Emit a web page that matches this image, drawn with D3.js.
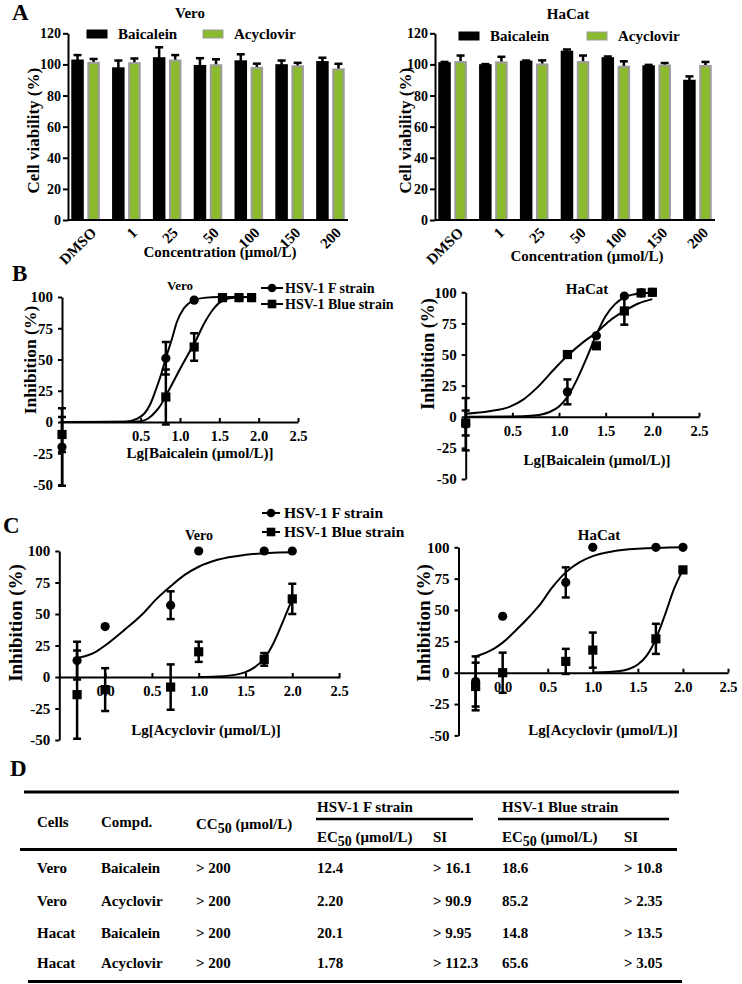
<!DOCTYPE html>
<html>
<head>
<meta charset="utf-8">
<script src="https://cdn.jsdelivr.net/npm/d3@7"></script>
<style>
  body { margin: 0; background: #fff; }
  svg text { font-family: "Liberation Serif", "Times New Roman", serif; font-weight: bold; fill: #000; }
  .axis path, .axis line { stroke: #000; stroke-width: 2; }
</style>
</head>
<body>
<div id="fig"></div>
<script>
// ---------- values ----------
// A: cell viability (%), mean + upper error
const concLabels = ['DMSO', '1', '25', '50', '100', '150', '200'];
const veroBaicalein = [102.5, 97.5, 104, 99, 102, 99.5, 101.5];
const veroBaicaleinErr = [3.5, 5, 7, 5, 4.5, 3, 2.8];
const veroAcyclovir = [101, 100.8, 102.5, 99.5, 97.8, 98.8, 96.8];
const veroAcyclovirErr = [2.5, 3, 3.5, 3.8, 2.7, 2.2, 3.6];
const hacatBaicalein = [100.8, 99.5, 101.8, 108.2, 104, 98.8, 89.5];
const hacatBaicaleinErr = [0.8, 0.7, 0.7, 1.4, 1.1, 0.9, 2.8];
const hacatAcyclovir = [101.5, 101.3, 100, 101.5, 98.5, 99.3, 99];
const hacatAcyclovirErr = [4.2, 3.6, 2.6, 4.2, 3.5, 1.6, 2.6];
const viabilityTicks = [0, 20, 40, 60, 80, 100, 120];
const drugNames = ['Baicalein', 'Acyclovir'];

// B, C: inhibition (%) vs lg concentration
const inhibitionTicks = [-50, -25, 0, 25, 50, 75, 100];
const baicaleinTicks = [0.5, 1.0, 1.5, 2.0, 2.5];
const acyclovirTicks = [0.0, 0.5, 1.0, 1.5, 2.0, 2.5];
const strainNames = ['HSV-1 F strain', 'HSV-1 Blue strain'];

const bVeroX = [-0.5, 0.82, 1.18, 1.54, 1.75, 1.91];
const bVeroF = [-20, 51, 97.5, 99.5, 99.5, 99.5];
const bVeroFErr = [31, 13, 0, 0, 0, 0];
const bVeroBlue = [-10, 20, 60, 99.5, 99.5, 99.5];
const bVeroBlueErr = [14, 22, 11, 0, 0, 0];
const bVeroFCurve = [[-0.5, 0], [0.3, 0.3], [0.45, 2.5], [0.55, 7], [0.62, 14], [0.7, 27], [0.76, 38], [0.82, 51],
  [0.9, 67], [0.96, 80], [1.05, 91], [1.18, 97.5], [1.3, 99.3], [1.5, 100], [1.91, 100]];
const bVeroBlueCurve = [[-0.5, 0], [0.4, 0.2], [0.5, 0.6], [0.6, 3], [0.7, 9], [0.76, 14], [0.82, 21], [0.93, 34],
  [1.04, 47], [1.12, 56], [1.2, 65], [1.3, 78], [1.42, 90], [1.54, 97], [1.7, 99.5], [1.91, 100]];

const bHacatX = [0, 1.09, 1.4, 1.7, 1.88, 2.0];
const bHacatF = [-6, 20, 65, 97, 99.5, 100];
const bHacatFErr = [21, 10, 0, 0, 0, 0];
const bHacatBlue = [-5, 50, 57, 85, 99.5, 100];
const bHacatBlueErr = [10, 0, 0, 11, 0, 0];
const bHacatFCurve = [[0, 0], [0.5, 0.2], [0.7, 0.8], [0.8, 1.7], [0.9, 3.8], [1.0, 8.2], [1.1, 17], [1.2, 31],
  [1.3, 48], [1.4, 66], [1.5, 81], [1.6, 90.5], [1.7, 96], [1.8, 98.3], [1.9, 99.3], [2.0, 99.7]];
const bHacatBlueCurve = [[0, 2.5], [0.25, 4.5], [0.47, 8], [0.62, 14], [0.76, 23], [0.97, 40], [1.09, 49],
  [1.26, 60], [1.39, 67], [1.54, 77], [1.7, 85], [1.85, 91], [2.0, 94.5]];

const cX = [-0.3, 0, 0.7, 1.0, 1.7, 2.0];
const cVeroF = [13, 40, 57, 100, 100, 100];
const cVeroFErr = [15, 0, 11, 0, 0, 0];
const cVeroBlue = [-14, -10, -8, 20, 14, 62];
const cVeroBlueErr = [35, 17, 18, 8, 5, 12];
const cVeroFCurve = [[-0.3, 15], [-0.1, 20], [0, 25], [0.2, 37], [0.4, 50], [0.55, 62], [0.7, 72], [0.85, 81],
  [1.0, 87.5], [1.2, 93], [1.5, 97], [1.75, 98.5], [2.0, 99]];
const cVeroBlueCurve = [[1.0, 0], [1.2, 0.4], [1.4, 1.9], [1.5, 3.9], [1.6, 7.8], [1.7, 14.5], [1.8, 27], [1.9, 44], [2.0, 62]];

const cHacatF = [-7, 45, 72, 100, 100, 100];
const cHacatFErr = [20, 0, 12, 0, 0, 0];
const cHacatBlue = [-11, 0, 9, 18, 27, 82];
const cHacatBlueErr = [19, 16, 10, 14, 12, 0];
const cHacatFCurve = [[-0.3, 13], [-0.1, 19], [0, 24], [0.15, 34], [0.3, 45], [0.4, 53], [0.55, 68], [0.7, 80],
  [0.85, 88], [1.0, 93], [1.2, 96.5], [1.5, 98.8], [2.0, 100]];
const cHacatBlueCurve = [[1.0, 0.1], [1.3, 1.3], [1.4, 2.9], [1.5, 6.5], [1.6, 13.8], [1.7, 27], [1.8, 46], [1.9, 66.6], [2.0, 82]];

// D: table
const tableRows = [
  ['Vero', 'Baicalein', '> 200', '12.4', '> 16.1', '18.6', '> 10.8'],
  ['Vero', 'Acyclovir', '> 200', '2.20', '> 90.9', '85.2', '> 2.35'],
  ['Hacat', 'Baicalein', '> 200', '20.1', '> 9.95', '14.8', '> 13.5'],
  ['Hacat', 'Acyclovir', '> 200', '1.78', '> 112.3', '65.6', '> 3.05']
];

// ---------- drawing ----------
const svg = d3.select('#fig').append('svg').attr('width', 742).attr('height', 984);

function addText(x, y, str, size, anchor, rotate) {
  const t = svg.append('text')
    .attr('x', x).attr('y', y)
    .attr('text-anchor', anchor || 'start')
    .style('font-size', size + 'px')
    .text(str);
  if (rotate) t.attr('transform', `rotate(${rotate},${x},${y})`);
  return t;
}

// panel letters
addText(12, 20, 'A', 23);
addText(12, 281, 'B', 23);
addText(3, 533, 'C', 23);
addText(10, 776, 'D', 23);

// ----- A: bar panels -----
function drawBarPanel(p) {
  const x0 = d3.scaleBand().domain(concLabels).range([p.left, p.right]).paddingInner(0.3).paddingOuter(0.08);
  const x1 = d3.scaleBand().domain(['baic', 'acy']).range([0, x0.bandwidth()]).paddingInner(0.22);
  const y = d3.scaleLinear().domain([0, 120]).range([p.bottom, p.top]);
  const g = svg.append('g');

  const series = [
    { key: 'baic', vals: p.baic, errs: p.baicErr, fill: '#000', stroke: '#000' },
    { key: 'acy', vals: p.acy, errs: p.acyErr, fill: '#8cba2e', stroke: '#9c9c9c' }
  ];

  series.forEach(s => {
    const cx = (d, i) => x0(concLabels[i]) + x1(s.key) + x1.bandwidth() / 2;
    // error bars (upper only)
    g.selectAll(null).data(s.vals).enter().append('line')
      .attr('x1', cx).attr('x2', cx)
      .attr('y1', d => y(d))
      .attr('y2', (d, i) => y(d + s.errs[i]))
      .attr('stroke', '#000').attr('stroke-width', 2.5);
    g.selectAll(null).data(s.vals).enter().append('line')
      .attr('x1', (d, i) => cx(d, i) - 4).attr('x2', (d, i) => cx(d, i) + 4)
      .attr('y1', (d, i) => y(d + s.errs[i]))
      .attr('y2', (d, i) => y(d + s.errs[i]))
      .attr('stroke', '#000').attr('stroke-width', 2.5);
    // bars
    g.selectAll(null).data(s.vals).enter().append('rect')
      .attr('x', (d, i) => x0(concLabels[i]) + x1(s.key) + 1)
      .attr('width', x1.bandwidth() - 2)
      .attr('y', d => y(d))
      .attr('height', d => y(0) - y(d))
      .attr('fill', s.fill)
      .attr('stroke', s.stroke)
      .attr('stroke-width', 2);
  });

  // axes
  g.append('g').attr('class', 'axis')
    .attr('transform', `translate(${p.left},0)`)
    .call(d3.axisLeft(y).tickValues(viabilityTicks).tickSize(5).tickSizeOuter(0).tickPadding(2).tickFormat(d => String(d)))
    .selectAll('text').style('font-size', '14px');

  const xa = g.append('g').attr('class', 'axis')
    .attr('transform', `translate(0,${y(0)})`)
    .call(d3.axisBottom(x0).tickSize(0).tickSizeOuter(0));
  xa.select('.domain').attr('d', `M${p.left},0H${p.right}`);
  xa.selectAll('text')
    .attr('x', 0).attr('y', 0).attr('dy', '0.35em')
    .attr('text-anchor', 'end')
    .attr('transform', 'translate(8,10) rotate(-45)')
    .style('font-size', '15px');

  // titles and labels
  addText(p.titleX, p.titleY, p.title, 15, 'middle');
  addText(p.ylabX, (p.top + p.bottom) / 2 + 4, 'Cell viability (%)', 17, 'middle', -90);
  addText(p.xlabX, p.xlabY, 'Concentration (μmol/L)', 15, 'middle');

  // legend
  const legCols = [['#000', '#000'], ['#8cba2e', '#9c9c9c']];
  drugNames.forEach((name, i) => {
    const lx = p.legX[i];
    svg.append('rect').attr('x', lx).attr('y', p.legY - 4).attr('width', 20).attr('height', 8)
      .attr('fill', legCols[i][0]).attr('stroke', legCols[i][1]).attr('stroke-width', 1);
    addText(lx + 31, p.legY + 5, name, 15);
  });
}

drawBarPanel({
  title: 'Vero', titleX: 190, titleY: 18,
  left: 68, right: 348, top: 33.3, bottom: 220,
  baic: veroBaicalein, baicErr: veroBaicaleinErr, acy: veroAcyclovir, acyErr: veroAcyclovirErr,
  ylabX: 39, xlabX: 220, xlabY: 257, legX: [87, 203], legY: 34
});
drawBarPanel({
  title: 'HaCat', titleX: 568, titleY: 19,
  left: 435, right: 715, top: 33.3, bottom: 220,
  baic: hacatBaicalein, baicErr: hacatBaicaleinErr, acy: hacatAcyclovir, acyErr: hacatAcyclovirErr,
  ylabX: 411, xlabX: 587, xlabY: 261, legX: [459, 587], legY: 36
});

// ----- B, C: dose-response panels -----
function drawCurvePanel(p) {
  const x = d3.scaleLinear().domain(p.xDomain).range(p.xRange);
  const y = d3.scaleLinear().domain([-50, 100]).range(p.yRange);
  const g = svg.append('g');

  g.append('g').attr('class', 'axis')
    .attr('transform', `translate(${p.xRange[0]},0)`)
    .call(d3.axisLeft(y).tickValues(inhibitionTicks).tickSize(4).tickSizeOuter(0).tickPadding(5).tickFormat(d => String(d)))
    .selectAll('text').style('font-size', '15px');

  g.append('g').attr('class', 'axis')
    .attr('transform', `translate(0,${y(0)})`)
    .call(d3.axisBottom(x).tickValues(p.xTicks).tickFormat(d3.format('.1f')).tickSizeInner(-4).tickSizeOuter(0).tickPadding(9))
    .selectAll('text').style('font-size', '14.5px');

  const line = d3.line().x(d => x(d[0])).y(d => y(d[1])).curve(d3.curveMonotoneX);
  p.curves.forEach(c => {
    g.append('path').attr('d', line(c)).attr('fill', 'none').attr('stroke', '#000').attr('stroke-width', 2);
  });

  const series = [
    { vals: p.f, errs: p.fErr, shape: 'circle' },
    { vals: p.blue, errs: p.blueErr, shape: 'square' }
  ];
  series.forEach(s => {
    s.vals.forEach((v, i) => {
      const e = s.errs[i];
      const px = x(p.xs[i]);
      if (e > 0) {
        g.append('line').attr('x1', px).attr('x2', px).attr('y1', y(v - e)).attr('y2', y(v + e))
          .attr('stroke', '#000').attr('stroke-width', 2.5);
        [v - e, v + e].forEach(yy => {
          g.append('line').attr('x1', px - 4).attr('x2', px + 4).attr('y1', y(yy)).attr('y2', y(yy))
            .attr('stroke', '#000').attr('stroke-width', 2.5);
        });
      }
    });
  });
  series.forEach(s => {
    s.vals.forEach((v, i) => {
      const px = x(p.xs[i]);
      if (s.shape === 'circle') {
        g.append('circle').attr('cx', px).attr('cy', y(v)).attr('r', 4.6).attr('fill', '#000');
      } else {
        g.append('rect').attr('x', px - 4.6).attr('y', y(v) - 4.6).attr('width', 9.2).attr('height', 9.2).attr('fill', '#000');
      }
    });
  });

  addText(p.titleX, p.titleY, p.title, p.titleSize, 'middle');
  addText(p.ylabX, p.ylabY, 'Inhibition (%)', p.ylabSize, 'middle', -90);
  addText(p.xlabX, p.xlabY, p.xlab, 15, 'middle');
}

function drawStrainLegend(lx, tx, ys, size) {
  strainNames.forEach((name, i) => {
    svg.append('line').attr('x1', lx[0]).attr('x2', lx[1]).attr('y1', ys[i]).attr('y2', ys[i])
      .attr('stroke', '#000').attr('stroke-width', 2);
    const mx = (lx[0] + lx[1]) / 2;
    if (i === 0) {
      svg.append('circle').attr('cx', mx).attr('cy', ys[i]).attr('r', 4.3).attr('fill', '#000');
    } else {
      svg.append('rect').attr('x', mx - 4.3).attr('y', ys[i] - 4.3).attr('width', 8.6).attr('height', 8.6).attr('fill', '#000');
    }
    addText(tx, ys[i] + 5, name, size);
  });
}

drawCurvePanel({
  xDomain: [-0.5, 2.5], xRange: [62, 298], yRange: [484.5, 297], xTicks: baicaleinTicks,
  xs: bVeroX, f: bVeroF, fErr: bVeroFErr, blue: bVeroBlue, blueErr: bVeroBlueErr,
  curves: [bVeroFCurve, bVeroBlueCurve],
  title: 'Vero', titleX: 180, titleY: 289.5, titleSize: 13,
  ylabX: 36, ylabY: 360, ylabSize: 17.5, xlab: 'Lg[Baicalein (μmol/L)]', xlabX: 200, xlabY: 458
});
drawCurvePanel({
  xDomain: [0, 2.5], xRange: [465.7, 699], yRange: [479, 292.3], xTicks: baicaleinTicks,
  xs: bHacatX, f: bHacatF, fErr: bHacatFErr, blue: bHacatBlue, blueErr: bHacatBlueErr,
  curves: [bHacatFCurve, bHacatBlueCurve],
  title: 'HaCat', titleX: 587, titleY: 293.5, titleSize: 15,
  ylabX: 434, ylabY: 354, ylabSize: 18, xlab: 'Lg[Baicalein (μmol/L)]', xlabX: 597, xlabY: 465
});
drawStrainLegend([261, 283], 285, [288, 304], 14);

drawCurvePanel({
  xDomain: [-0.49, 2.51], xRange: [59.3, 340], yRange: [740, 551], xTicks: acyclovirTicks,
  xs: cX, f: cVeroF, fErr: cVeroFErr, blue: cVeroBlue, blueErr: cVeroBlueErr,
  curves: [cVeroFCurve, cVeroBlueCurve],
  title: 'Vero', titleX: 199, titleY: 540, titleSize: 14,
  ylabX: 22, ylabY: 623, ylabSize: 19, xlab: 'Lg[Acyclovir (μmol/L)]', xlabX: 206, xlabY: 735
});
drawCurvePanel({
  xDomain: [-0.49, 2.5], xRange: [458.5, 728], yRange: [735.4, 547.3], xTicks: acyclovirTicks,
  xs: cX, f: cHacatF, fErr: cHacatFErr, blue: cHacatBlue, blueErr: cHacatBlueErr,
  curves: [cHacatFCurve, cHacatBlueCurve],
  title: 'HaCat', titleX: 599, titleY: 540, titleSize: 15,
  ylabX: 430, ylabY: 623, ylabSize: 19, xlab: 'Lg[Acyclovir (μmol/L)]', xlabX: 603, xlabY: 735
});
drawStrainLegend([262, 280], 284, [513, 532], 15.5);

// ----- D: table -----
function hline(x1, x2, yy, w) {
  svg.append('line').attr('x1', x1).attr('x2', x2).attr('y1', yy).attr('y2', yy)
    .attr('stroke', '#000').attr('stroke-width', w);
}
function subText(x, yy, pre, sub, post) {
  const t = svg.append('text').attr('x', x).attr('y', yy).style('font-size', '15px');
  t.append('tspan').text(pre);
  t.append('tspan').attr('dy', 4).style('font-size', '14px').text(sub);
  t.append('tspan').attr('dy', -4).text(post);
}

const colX = [37, 101, 196, 317, 433, 502, 624];
const rowY = [873, 906, 938, 968];

hline(24, 679, 792, 3);
addText(317, 812, strainNames[0], 15);
addText(502, 812, strainNames[1], 15);
hline(316, 473, 819, 2.5);
hline(498, 669, 819, 2.5);
addText(colX[0], 827, 'Cells', 15);
addText(colX[1], 827, 'Compd.', 15);
subText(colX[2], 829, 'CC', '50', ' (μmol/L)');
subText(colX[3], 842, 'EC', '50', ' (μmol/L)');
addText(colX[4], 842, 'SI', 15);
subText(colX[5], 842, 'EC', '50', ' (μmol/L)');
addText(colX[6], 842, 'SI', 15);
hline(20, 677, 849.5, 3);

tableRows.forEach((row, r) => {
  row.forEach((cell, c) => addText(colX[c], rowY[r], cell, 15));
});
hline(28, 682, 981.5, 3);
</script>
</body>
</html>
